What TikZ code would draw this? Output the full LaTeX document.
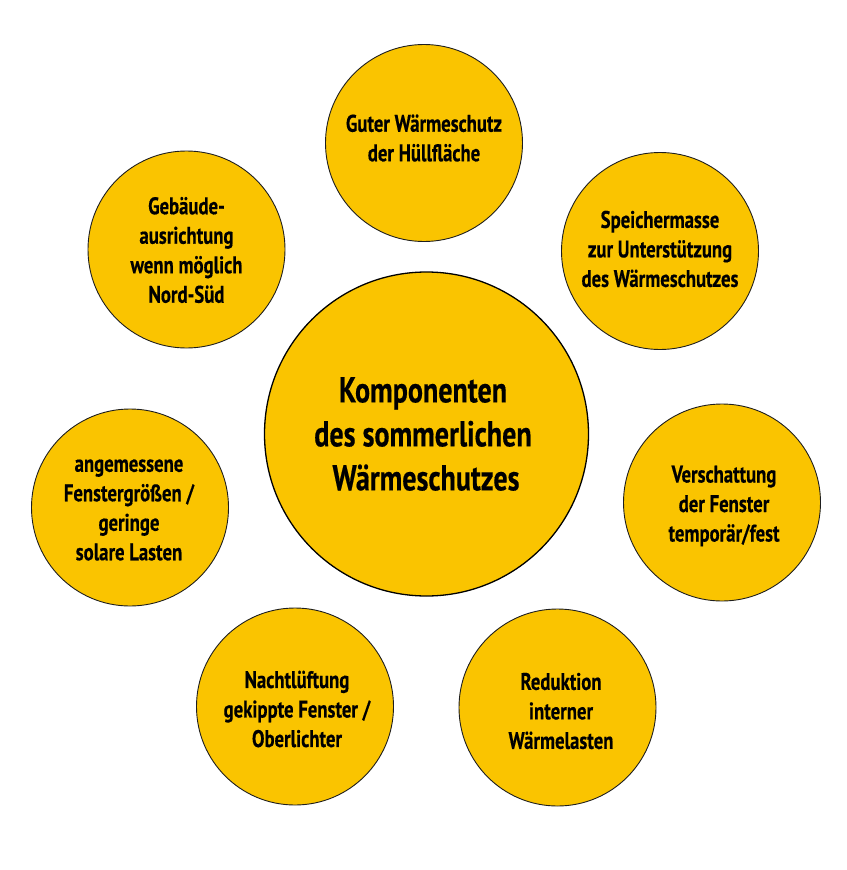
\documentclass[tikz,border=0pt]{standalone}
\usepackage{fontspec}
\setmainfont{PT Sans}[FakeStretch=0.78,BoldFeatures={FakeBold=0.4}]
\definecolor{fillyellow}{RGB}{250,196,0}
\definecolor{edge}{RGB}{30,30,30}
\begin{document}
\begin{tikzpicture}[x=1pt,y=-1pt,
  bubble/.style={circle,draw=edge,fill=fillyellow,line width=0.9pt,minimum size=197pt,inner sep=0pt},
  bigbubble/.style={circle,draw=black,fill=fillyellow,line width=1.3pt,minimum size=324pt,inner sep=0pt},
  lbl/.style={align=center,font=\bfseries\fontsize{24}{29.5}\selectfont,text=black,inner sep=0pt},
  biglbl/.style={align=center,font=\bfseries\fontsize{36}{44}\selectfont,text=black,inner sep=0pt}]
\useasboundingbox (0,0) rectangle (846,870);
\node[bubble] (n1) at (424,143) {};
\node[bubble] (n2) at (186.5,249.5) {};
\node[bubble] (n3) at (660,251) {};
\node[bigbubble] (c) at (426.5,434) {};
\node[bubble] (n4) at (130,507.5) {};
\node[bubble] (n5) at (722,502.5) {};
\node[bubble] (n6) at (295,706.5) {};
\node[bubble] (n7) at (557.5,707.5) {};
\node[lbl] (t1) at (424,138) {Guter Wärmeschutz\\der Hüllfläche};
\node[lbl] (t2) at (186.5,250) {Gebäude-\\ausrichtung\\wenn möglich\\Nord-Süd};
\node[lbl] (t3) at (660,249) {Speichermasse\\zur Unterstützung\\des Wärmeschutzes};
\node[biglbl] (tc) at (423,434) {Komponenten\\des sommerlichen\\\hspace*{6pt}Wärmeschutzes};
\node[lbl] (t4) at (129,510) {angemessene\\Fenstergrößen /\\geringe\\solare Lasten};
\node[lbl] (t5) at (724,506) {Verschattung\\der Fenster\\temporär/fest};
\node[lbl] (t6) at (297,709) {Nachtlüftung\\gekippte Fenster /\\Oberlichter};
\node[lbl] (t7) at (561,711) {Reduktion\\interner\\Wärmelasten};
\end{tikzpicture}
\end{document}
